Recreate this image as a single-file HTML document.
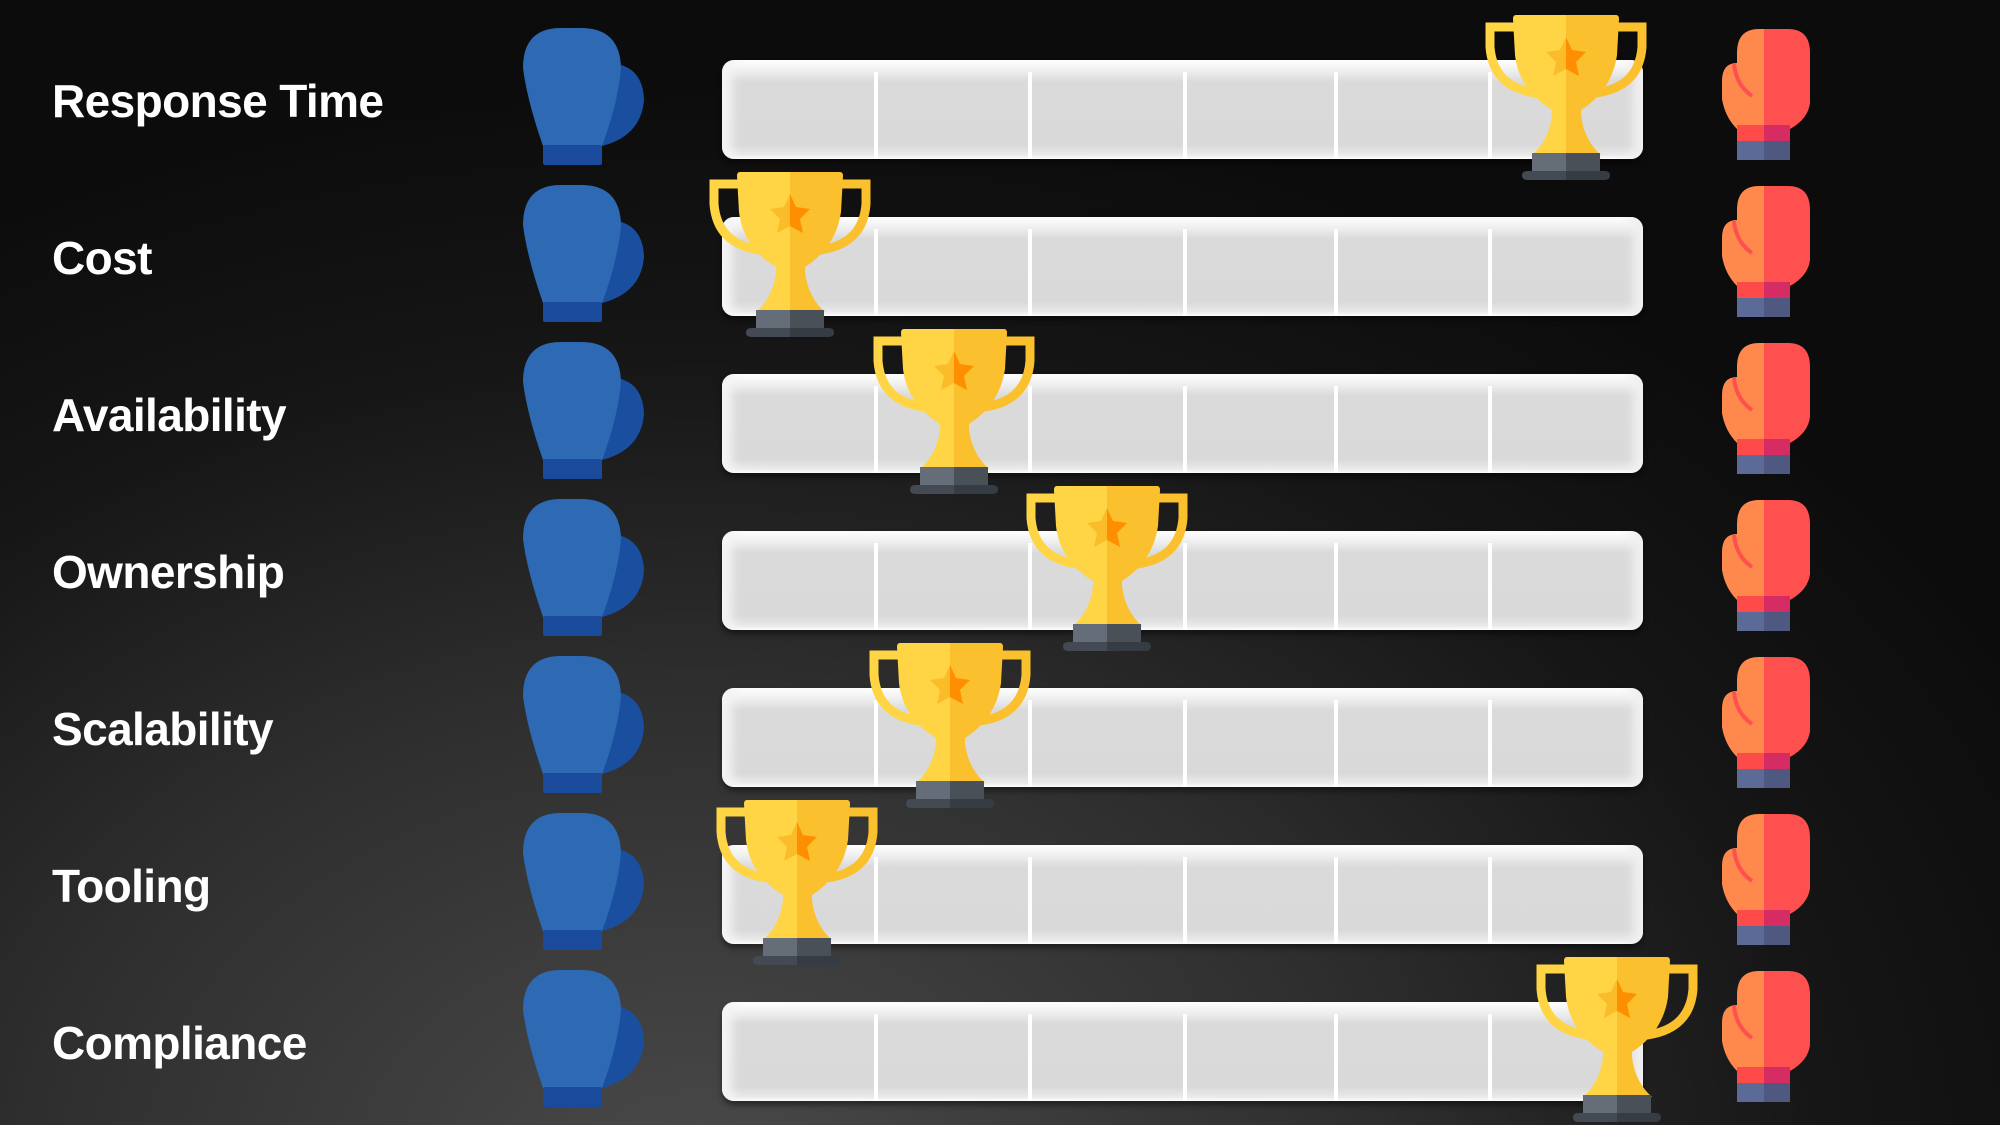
<!DOCTYPE html>
<html><head><meta charset="utf-8"><style>
html,body{margin:0;padding:0}
body{width:2000px;height:1125px;position:relative;overflow:hidden;
background:radial-gradient(ellipse 1500px 1100px at 35% 105%, #4a4a4a 0%, #2e2e2e 45%, #161616 75%, #0c0c0c 100%);
font-family:"Liberation Sans",sans-serif}
.lbl{position:absolute;left:52px;color:#fff;font-weight:bold;font-size:46px;line-height:1;letter-spacing:-0.6px}
.bar{position:absolute;left:722px;width:921px;height:99px;border-radius:12px;
background:linear-gradient(#ffffff 0px,#f0f0f0 10px,#dadada 22px,#d9d9d9 85px,#eaeaea 95px,#ffffff 99px);
box-shadow:0 4px 6px rgba(0,0,0,.45), inset 16px 0 10px -6px #f4f4f4, inset -16px 0 10px -6px #f0f0f0}
.div{position:absolute;top:12px;width:4px;height:87px;background:#fff}
svg.ic{position:absolute;overflow:visible}
</style></head><body>
<svg width="0" height="0" style="position:absolute">
<defs>
<g id="trophy">
<path d="M30,12 L6,12 L6,32 Q9,72 52,78" fill="none" stroke="#FFD545" stroke-width="9"/>
<path d="M134,12 L158,12 L158,32 Q155,72 112,78" fill="none" stroke="#FBC02D" stroke-width="9"/>
<path d="M32,0 L82,0 L82,140 L48,140 Q65,125 68,100 L68,95 Q35,75 31,40 L29,4 Q29,0 32,0 Z" fill="#FFD545"/>
<path d="M82,0 L132,0 Q135,0 135,4 L133,40 Q128,75 97,95 L97,100 Q100,125 117,140 L82,140 Z" fill="#FBC02D"/>
<path d="M82,22 L88,35 L102,37 L92,47 L95,61 L82,54 Z" fill="#FF8F00"/>
<path d="M82,22 L76,35 L62,37 L72,47 L69,61 L82,54 Z" fill="#FBBC2A"/>
<rect x="48" y="138" width="34" height="19" fill="#656D78"/>
<rect x="82" y="138" width="34" height="19" fill="#4A5058"/>
<path d="M44,156 L82,156 L82,165 L44,165 Q38,165 38,160.5 Q38,156 44,156 Z" fill="#434A54"/>
<path d="M82,156 L120,156 Q126,156 126,160.5 Q126,165 120,165 L82,165 Z" fill="#363C44"/>
</g>
<g id="blue">
<path d="M88,35 Q120,38 121,72 Q118,108 79,118 Z" fill="#1A4FA0"/>
<path d="M20,118 Q4,72 0,40 Q0,0 38,0 L58,0 Q97,0 98,40 Q95,75 79,118 Z" fill="#2D6AB3"/>
<rect x="20" y="117" width="59" height="20" rx="2" fill="#1A4A9C"/>
</g>
<g id="red">
<path d="M42,0 L37,0 Q15,0 15,24 L15,34 Q0,34 0,52 L0,70 Q3,88 15,100 L42,100 Z" fill="#FF884D"/>
<path d="M42,0 L66,0 Q88,0 88,24 L88,74 Q86,90 68,100 L42,100 Z" fill="#FF5050"/>
<path d="M12,35 Q14,56 30,67" fill="none" stroke="#FF5050" stroke-width="4"/>
<rect x="15" y="96" width="27" height="16" fill="#FF4A4A"/>
<rect x="42" y="96" width="26" height="16" fill="#D42C63"/>
<rect x="15" y="112" width="27" height="19" fill="#5B6A96"/>
<rect x="42" y="112" width="26" height="19" fill="#4F5880"/>
</g>
</defs></svg>

<div class="lbl" style="top:78px">Response Time</div>
<div class="lbl" style="top:235px">Cost</div>
<div class="lbl" style="top:392px">Availability</div>
<div class="lbl" style="top:549px">Ownership</div>
<div class="lbl" style="top:706px">Scalability</div>
<div class="lbl" style="top:863px">Tooling</div>
<div class="lbl" style="top:1020px">Compliance</div>

<div class="bar" style="top:60px"><div class="div" style="left:152px"></div><div class="div" style="left:306px"></div><div class="div" style="left:461px"></div><div class="div" style="left:612px"></div><div class="div" style="left:766px"></div></div>
<div class="bar" style="top:217px"><div class="div" style="left:152px"></div><div class="div" style="left:306px"></div><div class="div" style="left:461px"></div><div class="div" style="left:612px"></div><div class="div" style="left:766px"></div></div>
<div class="bar" style="top:374px"><div class="div" style="left:152px"></div><div class="div" style="left:306px"></div><div class="div" style="left:461px"></div><div class="div" style="left:612px"></div><div class="div" style="left:766px"></div></div>
<div class="bar" style="top:531px"><div class="div" style="left:152px"></div><div class="div" style="left:306px"></div><div class="div" style="left:461px"></div><div class="div" style="left:612px"></div><div class="div" style="left:766px"></div></div>
<div class="bar" style="top:688px"><div class="div" style="left:152px"></div><div class="div" style="left:306px"></div><div class="div" style="left:461px"></div><div class="div" style="left:612px"></div><div class="div" style="left:766px"></div></div>
<div class="bar" style="top:845px"><div class="div" style="left:152px"></div><div class="div" style="left:306px"></div><div class="div" style="left:461px"></div><div class="div" style="left:612px"></div><div class="div" style="left:766px"></div></div>
<div class="bar" style="top:1002px"><div class="div" style="left:152px"></div><div class="div" style="left:306px"></div><div class="div" style="left:461px"></div><div class="div" style="left:612px"></div><div class="div" style="left:766px"></div></div>

<svg class="ic" style="left:523px;top:28px" width="121" height="138"><use href="#blue"/></svg>
<svg class="ic" style="left:523px;top:185px" width="121" height="138"><use href="#blue"/></svg>
<svg class="ic" style="left:523px;top:342px" width="121" height="138"><use href="#blue"/></svg>
<svg class="ic" style="left:523px;top:499px" width="121" height="138"><use href="#blue"/></svg>
<svg class="ic" style="left:523px;top:656px" width="121" height="138"><use href="#blue"/></svg>
<svg class="ic" style="left:523px;top:813px" width="121" height="138"><use href="#blue"/></svg>
<svg class="ic" style="left:523px;top:970px" width="121" height="138"><use href="#blue"/></svg>

<svg class="ic" style="left:1722px;top:29px" width="88" height="131"><use href="#red"/></svg>
<svg class="ic" style="left:1722px;top:186px" width="88" height="131"><use href="#red"/></svg>
<svg class="ic" style="left:1722px;top:343px" width="88" height="131"><use href="#red"/></svg>
<svg class="ic" style="left:1722px;top:500px" width="88" height="131"><use href="#red"/></svg>
<svg class="ic" style="left:1722px;top:657px" width="88" height="131"><use href="#red"/></svg>
<svg class="ic" style="left:1722px;top:814px" width="88" height="131"><use href="#red"/></svg>
<svg class="ic" style="left:1722px;top:971px" width="88" height="131"><use href="#red"/></svg>

<svg class="ic" style="left:1484px;top:15px" width="165" height="165"><use href="#trophy"/></svg>
<svg class="ic" style="left:708px;top:172px" width="165" height="165"><use href="#trophy"/></svg>
<svg class="ic" style="left:872px;top:329px" width="165" height="165"><use href="#trophy"/></svg>
<svg class="ic" style="left:1025px;top:486px" width="165" height="165"><use href="#trophy"/></svg>
<svg class="ic" style="left:868px;top:643px" width="165" height="165"><use href="#trophy"/></svg>
<svg class="ic" style="left:715px;top:800px" width="165" height="165"><use href="#trophy"/></svg>
<svg class="ic" style="left:1535px;top:957px" width="165" height="165"><use href="#trophy"/></svg>
</body></html>
